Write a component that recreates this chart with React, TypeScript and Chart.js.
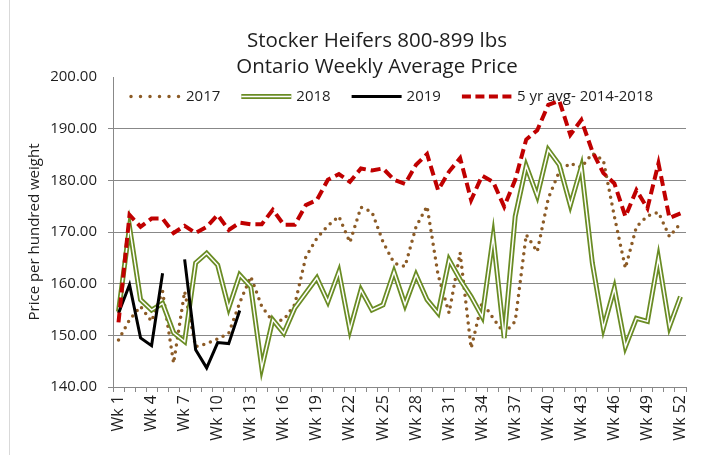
import React, { useEffect, useRef } from 'react';
import { Chart, registerables } from 'chart.js';

Chart.register(...registerables);

const weekLabels = [
  'Wk 1', 'Wk 2', 'Wk 3', 'Wk 4', 'Wk 5', 'Wk 6', 'Wk 7', 'Wk 8', 'Wk 9', 'Wk 10',
  'Wk 11', 'Wk 12', 'Wk 13', 'Wk 14', 'Wk 15', 'Wk 16', 'Wk 17', 'Wk 18', 'Wk 19', 'Wk 20',
  'Wk 21', 'Wk 22', 'Wk 23', 'Wk 24', 'Wk 25', 'Wk 26', 'Wk 27', 'Wk 28', 'Wk 29', 'Wk 30',
  'Wk 31', 'Wk 32', 'Wk 33', 'Wk 34', 'Wk 35', 'Wk 36', 'Wk 37', 'Wk 38', 'Wk 39', 'Wk 40',
  'Wk 41', 'Wk 42', 'Wk 43', 'Wk 44', 'Wk 45', 'Wk 46', 'Wk 47', 'Wk 48', 'Wk 49', 'Wk 50',
  'Wk 51', 'Wk 52',
];

const price2017 = [
  149.1, 153.0, 155.6, 152.7, 158.5, 144.6, 158.5, 147.8, 148.4, 149.3,
  150.4, 156.3, 161.4, 155.6, 152.7, 153.0, 156.0, 165.2, 168.8, 171.2,
  173.0, 168.0, 174.8, 173.9, 168.1, 164.0, 163.3, 171.0, 175.0, 161.7,
  154.3, 166.0, 147.5, 156.5, 153.3, 150.4, 152.7, 169.5, 166.2, 176.5,
  181.7, 183.3, 182.5, 185.2, 183.9, 173.0, 163.0, 171.0, 173.1, 173.8,
  169.1, 171.7,
];

const price2018 = [
  154.6, 171.0, 156.9, 154.9, 156.2, 150.5, 148.8, 164.0, 165.9, 163.6,
  155.3, 161.7, 159.4, 143.7, 153.0, 150.4, 155.3, 158.2, 161.1, 156.5,
  162.3, 151.1, 158.8, 154.9, 155.9, 162.3, 155.9, 161.7, 156.9, 154.3,
  164.6, 160.8, 157.5, 153.6, 169.1, 149.5, 173.0, 182.8, 177.0, 185.9,
  183.0, 175.2, 182.6, 164.0, 151.4, 159.1, 147.8, 153.3, 152.7, 164.9,
  151.7, 157.5,
];

const price2019 = [
  154.3, 159.8, 149.5, 148.0, 162.0, null, 164.7, 147.2, 143.7, 148.6,
  148.4, 154.8,
];

const avg5yr = [
  152.5, 173.3, 171.0, 172.6, 172.6, 169.8, 171.2, 169.8, 171.0, 173.3,
  170.4, 171.8, 171.5, 171.5, 174.3, 171.4, 171.4, 175.2, 176.2, 180.1,
  181.2, 179.7, 182.3, 181.9, 182.3, 180.1, 179.3, 183.0, 185.1, 178.1,
  181.7, 184.3, 176.2, 180.9, 179.7, 174.9, 180.1, 187.9, 189.7, 194.6,
  195.4, 188.8, 191.7, 185.6, 181.4, 179.4, 173.0, 178.1, 174.6, 183.3,
  172.7, 173.6,
];

const yMin = 140;
const yMax = 200;
const yStep = 10;

const titleLines = ['Stocker Heifers 800-899 lbs', 'Ontario Weekly Average Price'];
const seriesNames = ['2017', '2018', '2019', '5 yr avg- 2014-2018'];
const yAxisTitle = 'Price per hundred weight';

const FONT = '"Open Sans", "Liberation Sans", sans-serif';
const TEXT = '#1e1e1e';
const GRID = '#888888';
const BROWN = '#8C5B26';
const GREEN = '#6A8C24';
const RED = '#C00000';

type Sample = { kind: 'dots' | 'double' | 'solid' | 'dash' };
const samples: Sample[] = [{ kind: 'dots' }, { kind: 'double' }, { kind: 'solid' }, { kind: 'dash' }];

const decorPlugin = {
  id: 'decor',
  afterDraw(chart: any) {
    const ctx = chart.ctx as CanvasRenderingContext2D;
    ctx.save();
    // outer frame left edge
    ctx.strokeStyle = '#d9d9d9';
    ctx.lineWidth = 1;
    ctx.beginPath();
    ctx.moveTo(9.5, 0);
    ctx.lineTo(9.5, chart.height);
    ctx.stroke();

    // title
    ctx.fillStyle = TEXT;
    ctx.font = `20.5px ${FONT}`;
    ctx.textAlign = 'center';
    ctx.textBaseline = 'middle';
    ctx.fillText(titleLines[0], 377, 41);
    ctx.fillText(titleLines[1], 377, 67);

    // legend
    ctx.font = `15px ${FONT}`;
    ctx.textAlign = 'left';
    const ly = 96.5;
    let x = 131;
    const sampleLen = 50;
    samples.forEach((s, i) => {
      ctx.save();
      ctx.beginPath();
      ctx.moveTo(x, ly);
      ctx.lineTo(x + sampleLen, ly);
      if (s.kind === 'dots') {
        ctx.strokeStyle = BROWN;
        ctx.lineWidth = 3.5;
        ctx.lineCap = 'round';
        ctx.setLineDash([0, 9.5]);
        ctx.stroke();
      } else if (s.kind === 'double') {
        ctx.strokeStyle = GREEN;
        ctx.lineWidth = 5;
        ctx.stroke();
        ctx.strokeStyle = '#ffffff';
        ctx.lineWidth = 1.5;
        ctx.stroke();
      } else if (s.kind === 'solid') {
        ctx.strokeStyle = '#000000';
        ctx.lineWidth = 3;
        ctx.stroke();
      } else {
        ctx.strokeStyle = RED;
        ctx.lineWidth = 4;
        ctx.setLineDash([9, 4.5]);
        ctx.stroke();
      }
      ctx.restore();
      const tx = x + sampleLen + 5;
      ctx.fillStyle = TEXT;
      ctx.fillText(seriesNames[i], tx, ly);
      x = tx + ctx.measureText(seriesNames[i]).width + 21;
    });
    ctx.restore();
  },
};

export default function App() {
  const canvasRef = useRef<HTMLCanvasElement | null>(null);

  useEffect(() => {
    const canvas = canvasRef.current;
    if (!canvas) return;
    const chart = new Chart(canvas, {
      type: 'line',
      data: {
        labels: weekLabels,
        datasets: [
          {
            label: seriesNames[3],
            data: avg5yr,
            borderColor: RED,
            borderWidth: 4,
            borderDash: [10, 5],
            pointRadius: 0,
            tension: 0,
            order: 0,
          },
          {
            label: seriesNames[2],
            data: price2019,
            borderColor: '#000000',
            borderWidth: 3,
            pointRadius: 0,
            spanGaps: false,
            tension: 0,
            order: 1,
          },
          {
            label: seriesNames[1] + ' inner',
            data: price2018,
            borderColor: '#ffffff',
            borderWidth: 1.5,
            pointRadius: 0,
            tension: 0,
            order: 2,
          },
          {
            label: seriesNames[1],
            data: price2018,
            borderColor: GREEN,
            borderWidth: 5,
            pointRadius: 0,
            tension: 0,
            order: 3,
          },
          {
            label: seriesNames[0],
            data: price2017,
            borderColor: BROWN,
            borderWidth: 3.5,
            borderDash: [0, 7],
            borderCapStyle: 'round',
            pointRadius: 0,
            tension: 0,
            order: 4,
          },
        ],
      },
      options: {
        responsive: false,
        animation: false,
        events: [],
        layout: { padding: { top: 77, right: 20, left: 0, bottom: 0 } },
        plugins: {
          legend: { display: false },
          title: { display: false },
          tooltip: { enabled: false },
        },
        scales: {
          x: {
            type: 'category',
            offset: true,
            grid: {
              display: true,
              offset: true,
              drawOnChartArea: false,
              drawTicks: true,
              tickLength: 5,
              color: GRID,
            },
            border: { display: true, color: GRID, width: 1 },
            ticks: {
              autoSkip: false,
              maxRotation: 90,
              minRotation: 90,
              padding: 3,
              color: TEXT,
              font: { family: FONT, size: 16 },
              callback: (_v: any, i: number) => (i % 3 === 0 ? weekLabels[i] : ''),
            },
            afterFit: (s: any) => {
              s.height = 68;
            },
          },
          y: {
            min: yMin,
            max: yMax,
            grid: {
              color: (c: any) => (c.tick && c.tick.value === yMax ? 'rgba(0,0,0,0)' : GRID),
              lineWidth: 1,
              drawTicks: true,
              tickLength: 5,
            },
            border: { display: true, color: GRID, width: 1 },
            ticks: {
              stepSize: yStep,
              padding: 11,
              color: TEXT,
              font: { family: FONT, size: 15 },
              callback: (v: any) => Number(v).toFixed(2),
            },
            title: {
              display: true,
              text: yAxisTitle,
              color: TEXT,
              font: { family: FONT, size: 15 },
              padding: { top: 26, bottom: 0 },
            },
            afterFit: (s: any) => {
              s.width = 113;
            },
          },
        },
      },
      plugins: [decorPlugin],
    } as any);
    return () => chart.destroy();
  }, []);

  return (
    <div style={{ position: 'absolute', left: 0, top: 0, width: 706, height: 455, background: '#ffffff' }}>
      <canvas ref={canvasRef} width={706} height={455} style={{ display: 'block' }} />
    </div>
  );
}
